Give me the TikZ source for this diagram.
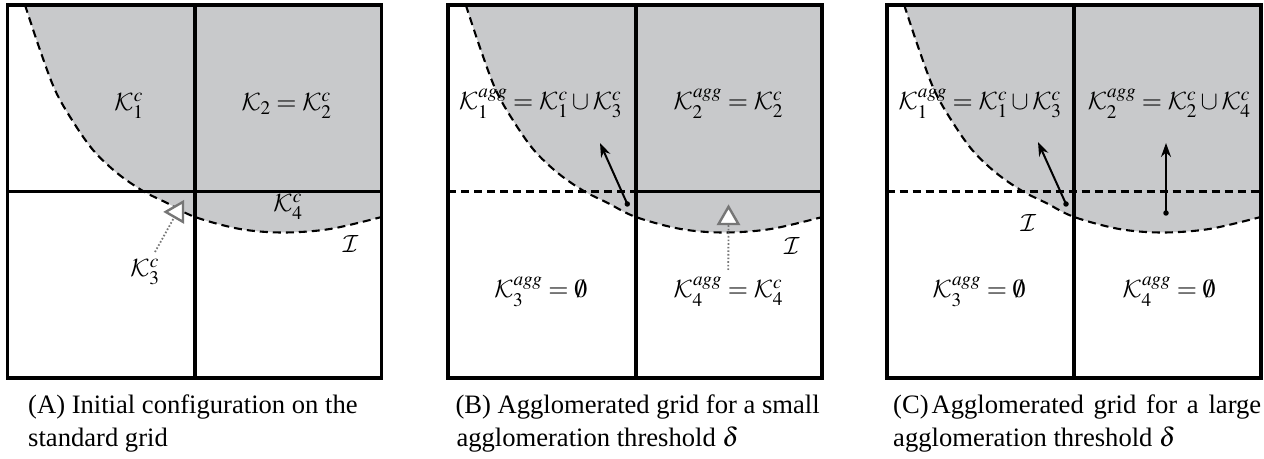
\documentclass[tikz,border=0pt]{standalone}
\usepackage{mathptmx}
\usepackage{fontspec}
\setmainfont{Liberation Serif}
\DeclareMathAlphabet{\mathcal}{OMS}{cmsy}{m}{n}
\usetikzlibrary{arrows.meta,shapes.geometric}
\definecolor{regiongray}{RGB}{200,201,203}
\definecolor{markgray}{RGB}{118,118,118}
\newcommand\ifacecurve{plot[smooth,tension=0.55] coordinates {(25,453) (40,408) (55,368) (72,338) (93,308) (117,285) (143,267) (167,255) (195,241) (240,229) (283,225.5) (330,229) (381.5,241)}}
\newcommand\panelbase{%
  \fill[regiongray] \ifacecurve -- (381.5,453) -- cycle;
  \draw[iface] \ifacecurve;
}
\tikzset{
  gridframe/.style={line width=3.8pt},
  iface/.style={line width=2.1pt, dash pattern=on 8pt off 5pt},
  gridcut/.style={line width=2.1pt, dash pattern=on 8pt off 5pt},
  lbl/.style={anchor=base, inner sep=0pt, font=\fontsize{26}{30}\selectfont},
  capt/.style={anchor=base west, inner sep=0pt, font=\fontsize{26.6}{32}\selectfont},
  marker/.style={regular polygon, regular polygon sides=3, draw=markgray, fill=white, line width=2.4pt, inner sep=0pt, minimum size=23pt},
  pointer/.style={draw=markgray, line width=1.8pt, dash pattern=on 1.6pt off 2pt},
  moveline/.style={-{Stealth[length=14pt,width=10pt]}, line width=2pt},
  src/.style={circle, fill=black, inner sep=0pt, minimum size=5.5pt},
}
\begin{document}
\begin{tikzpicture}[x=1pt,y=1pt]
\useasboundingbox (0,0) rectangle (1264,458);
% ---------------- Panel A
\begin{scope}
  \panelbase
  \draw[gridframe] (195,80) -- (195,453) (7.5,266.5) -- (381.5,266.5);
  \draw[gridframe] (7.5,80) rectangle (381.5,453);
  \node[lbl] (a1) at (129,347) {$\mathcal{K}_1^c$};
  \node[lbl] (a2) at (286.5,347) {$\mathcal{K}_2=\mathcal{K}_2^c$};
  \node[lbl] (a4) at (288,246.3) {$\mathcal{K}_4^c$};
  \node[lbl] (aI) at (350.5,205) {$\mathcal{I}$};
  \node[lbl] (a3) at (145,181) {$\mathcal{K}_3^c$};
  \node[marker, rotate=90] (ta) at (177.2,246.1) {};
  \coordinate (pa) at (155,206);
  \draw[pointer] (pa) -- (ta);
  \node[capt] (capA1) at (28,44.7) {(A) Initial configuration on the};
  \node[capt] (capA2) at (28,11.3) {standard grid};
\end{scope}
% ---------------- Panel B
\begin{scope}[xshift=440.8pt]
  \panelbase
  \draw[gridcut] (7.5,266.5) -- (195,266.5);
  \draw[gridframe] (195,80) -- (195,453) (195,266.5) -- (381.5,266.5);
  \draw[gridframe] (7.5,80) rectangle (381.5,453);
  \node[lbl] (b1) at (99.7,348) {$\mathcal{K}_1^{agg}=\mathcal{K}_1^c\cup\mathcal{K}_3^c$};
  \node[lbl] (b2) at (287.5,348) {$\mathcal{K}_2^{agg}=\mathcal{K}_2^c$};
  \node[lbl] (b3) at (100,160) {$\mathcal{K}_3^{agg}=\emptyset$};
  \node[lbl] (b4) at (287.5,160) {$\mathcal{K}_4^{agg}=\mathcal{K}_4^c$};
  \node[lbl] (bI) at (351,203) {$\mathcal{I}$};
  \node[marker] (tb) at (287.7,239.7) {};
  \coordinate (pb) at (287.5,188);
  \draw[pointer] (pb) -- (tb);
  \node[src] (sb) at (186.5,254) {};
  \coordinate (eb) at (159.2,315);
  \draw[moveline] (sb.center) -- (eb);
  \node[capt] (capB1) at (14.5,44.7) {(B) Agglomerated grid for a small};
  \node[capt] (capB2) at (15.5,11.3) {agglomeration threshold $\delta$};
\end{scope}
% ---------------- Panel C
\begin{scope}[xshift=879.2pt]
  \panelbase
  \draw[gridcut] (7.5,266.5) -- (381.5,266.5);
  \draw[gridframe] (195,80) -- (195,453);
  \draw[gridframe] (7.5,80) rectangle (381.5,453);
  \node[lbl] (c1) at (100.8,348) {$\mathcal{K}_1^{agg}=\mathcal{K}_1^c\cup\mathcal{K}_3^c$};
  \node[lbl] (c2) at (290,348) {$\mathcal{K}_2^{agg}=\mathcal{K}_2^c\cup\mathcal{K}_4^c$};
  \node[lbl] (c3) at (100,160) {$\mathcal{K}_3^{agg}=\emptyset$};
  \node[lbl] (c4) at (290,160) {$\mathcal{K}_4^{agg}=\emptyset$};
  \node[lbl] (cI) at (149,226) {$\mathcal{I}$};
  \node[src] (sc1) at (186.8,254) {};
  \coordinate (ec1) at (158.8,316);
  \draw[moveline] (sc1.center) -- (ec1);
  \node[src] (sc2) at (286.8,245) {};
  \coordinate (ec2) at (286.8,315);
  \draw[moveline] (sc2.center) -- (ec2);
  \node[capt] (capC1) at (13.8,44.7) {\makebox[368pt][s]{(C)\hspace{3pt}Agglomerated grid for a large}};
  \node[capt] (capC2) at (13.8,11.3) {agglomeration threshold $\delta$};
\end{scope}
\end{tikzpicture}
\end{document}
